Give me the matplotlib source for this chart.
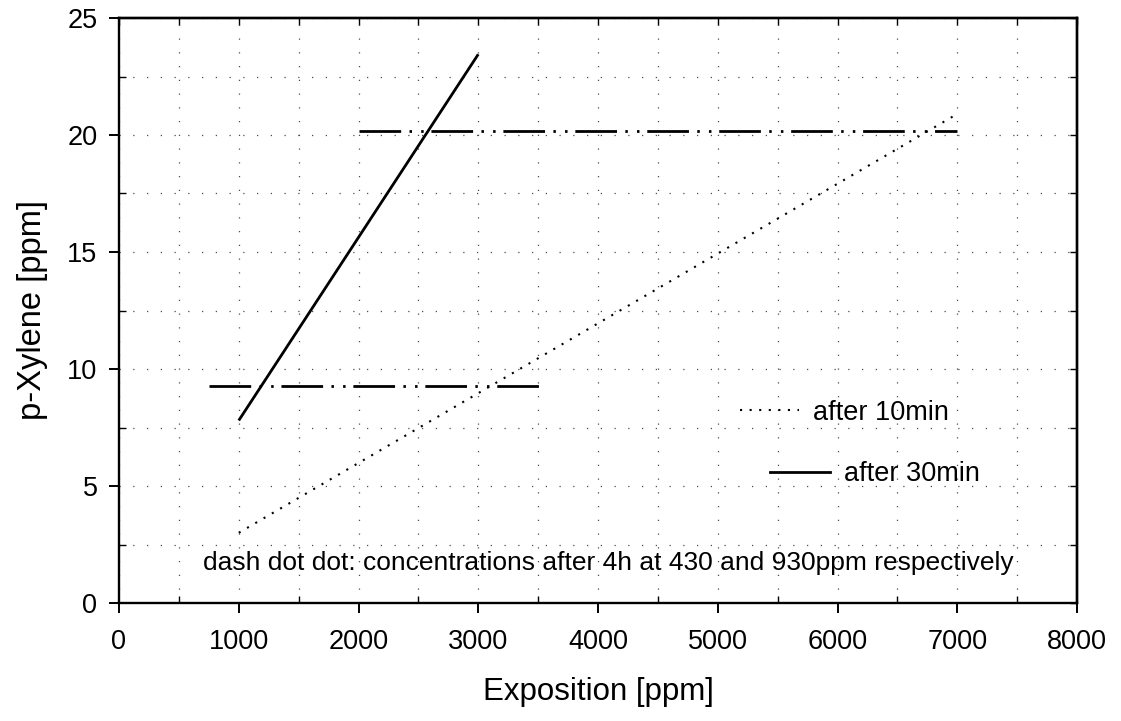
import matplotlib
matplotlib.use("Agg")
import matplotlib.pyplot as plt
from matplotlib.ticker import MultipleLocator
from matplotlib.lines import Line2D

plt.rcParams['font.family'] = ['Liberation Sans', 'DejaVu Sans']

# Data
x_10min = [1000, 7000]
y_10min = [3.0, 20.9]
x_30min = [1000, 3000]
y_30min = [7.8, 23.45]
x_4h_430 = [750, 3520]
y_4h_430 = [9.28, 9.28]
x_4h_930 = [2000, 7000]
y_4h_930 = [20.15, 20.15]

xlim = (0, 8000)
ylim = (0, 25)
xlabel = "Exposition [ppm]"
ylabel = "p-Xylene [ppm]"
note = "dash dot dot: concentrations after 4h at 430 and 930ppm respectively"
label_10 = "after 10min"
label_30 = "after 30min"

fig = plt.figure(figsize=(11.21, 7.21), dpi=100)
ax = fig.add_axes([119/1121, 1-603/721, (1077-119)/1121, (603-18)/721])

dashdotdot = (0, (15, 3.0, 0.9, 3.3, 0.9, 2.8))
dotted = (0, (1, 3.6))
ax.plot(x_10min, y_10min, color='black', lw=1.5, linestyle=dotted)
ax.plot(x_30min, y_30min, color='black', lw=2.0, solid_capstyle='butt')
ax.plot(x_4h_430, y_4h_430, color='black', lw=2.0, linestyle=dashdotdot)
ax.plot(x_4h_930, y_4h_930, color='black', lw=2.0, linestyle=dashdotdot)

ax.set_xlim(*xlim)
ax.set_ylim(*ylim)
ax.xaxis.set_major_locator(MultipleLocator(1000))
ax.xaxis.set_minor_locator(MultipleLocator(500))
ax.yaxis.set_major_locator(MultipleLocator(5))
ax.yaxis.set_minor_locator(MultipleLocator(2.5))

ax.grid(which='both', color='0.3', lw=0.9, linestyle=(0, (1, 10)))
ax.set_axisbelow(True)

for s in ax.spines.values():
    s.set_linewidth(1.7)

ax.tick_params(which='major', direction='out', length=7.5, width=1.4,
               labelsize=19.5, colors='black')
ax.tick_params(axis='x', which='major', pad=11)
ax.tick_params(axis='y', which='major', pad=8)
ax.tick_params(which='minor', direction='in', length=5, width=1.0)

secx = ax.secondary_xaxis('top')
secx.xaxis.set_major_locator(MultipleLocator(500))
secx.tick_params(direction='in', length=5, width=1.0, labeltop=False)
secx.spines['top'].set_linewidth(1.7)
secy = ax.secondary_yaxis('right')
secy.yaxis.set_major_locator(MultipleLocator(2.5))
secy.tick_params(direction='in', length=5, width=1.0, labelright=False)
secy.spines['right'].set_linewidth(1.7)

ax.set_xlabel(xlabel, fontsize=22.5, labelpad=16)
ax.set_ylabel(ylabel, fontsize=23.5, labelpad=14)

h10 = Line2D([], [], color='black', lw=1.5, linestyle=dotted)
h30 = Line2D([], [], color='black', lw=2.0)
leg1 = ax.legend([h10], [label_10], loc='center left', bbox_to_anchor=(0.648, 0.325),
                 frameon=False, fontsize=19.5, handlelength=2.2, handletextpad=0.5,
                 borderpad=0, borderaxespad=0)
ax.add_artist(leg1)
ax.legend([h30], [label_30], loc='center left', bbox_to_anchor=(0.68, 0.22),
          frameon=False, fontsize=19.5, handlelength=2.2, handletextpad=0.5,
          borderpad=0, borderaxespad=0)

ax.text(0.0877, 0.068, note, transform=ax.transAxes, fontsize=19,
        va='center', ha='left')

fig.savefig("out.png", dpi=100)
